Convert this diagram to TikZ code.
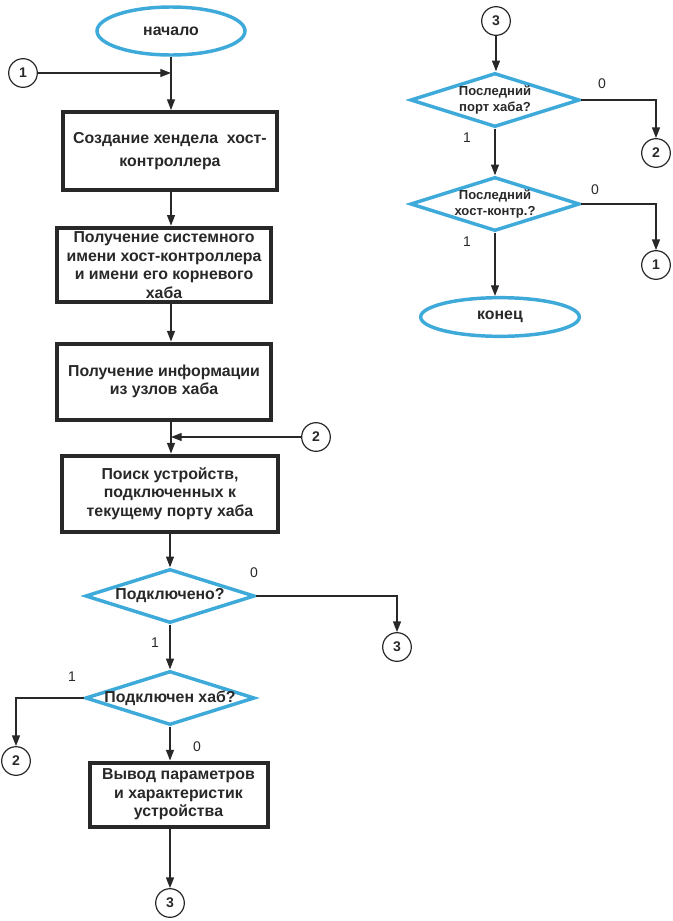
\documentclass[tikz,border=0pt]{standalone}
\usepackage{fontspec}
\setmainfont{Liberation Sans}
\usetikzlibrary{arrows.meta,
                shapes.geometric}
\definecolor{flowblue}{RGB}{62,170,218}
\definecolor{inkgray}{RGB}{40,40,40}

\begin{document}
\begin{tikzpicture}[x=0.75pt, y=-0.75pt,
    flow/.style = {-{Triangle[length=8pt, width=6pt]}, line width=0.9pt, inkgray},
    term/.style = {ellipse, draw=flowblue, line width=2.6pt, inner sep=0pt, text=inkgray,
                   font=\fontsize{11.9}{13.9}\selectfont\bfseries},
    proc/.style = {rectangle, draw=inkgray, line width=3pt, inner sep=0pt, align=center,
                   text=inkgray, font=\fontsize{11.9}{13.9}\selectfont\bfseries},
    cond/.style = {diamond, draw=flowblue, line width=2.6pt, inner sep=0pt,
                   minimum width=127pt, minimum height=40.5pt},
    condtext/.style = {align=center, text=inkgray, font=\fontsize{11.9}{13.9}\selectfont\bfseries},
    condsmall/.style = {align=center, text=inkgray, font=\fontsize{9.8}{12.7}\selectfont\bfseries},
    conn/.style = {circle, draw=inkgray, line width=0.9pt, minimum size=21.5pt, inner sep=0pt,
                   text=inkgray, font=\fontsize{10.5}{12}\selectfont\bfseries},
    lbl/.style  = {text=inkgray, font=\fontsize{10.5}{12}\selectfont}]

    \useasboundingbox (0,0) rectangle (672,921);

    % left column
    \node [term, minimum width=111pt, minimum height=36pt] (start) at (171,31) {начало};
    \node [proc, minimum width=160.5pt, minimum height=58.5pt] (box1) at (170,151)
        {Создание хендела\ \ хост-\\[3.5pt]контроллера};
    \node [proc, minimum width=161pt, minimum height=56pt] (box2) at (164,265)
        {Получение системного\\имени хост-контроллера\\и имени его корневого\\хаба};
    \node [proc, minimum width=161pt, minimum height=57pt] (box3) at (164,381.5)
        {Получение информации\\из узлов хаба};
    \node [proc, minimum width=162pt, minimum height=57pt] (box4) at (170,493.5)
        {Поиск устройств,\\подключенных к\\текущему порту хаба};
    \node [cond, label={[condtext]center:Подключено?}] (conn1) at (170,596) {};
    \node [cond, label={[condtext]center:Подключен хаб?}] (hub) at (170,698) {};
    \node [proc, minimum width=133.5pt, minimum height=48pt] (out) at (178.5,794.5)
        {Вывод параметров\\и характеристик\\устройства};

    \node [conn] (c1in)  at (23,73)   {1};
    \node [conn] (c2in)  at (316,437) {2};
    \node [conn] (c3a)   at (397,647) {3};
    \node [conn] (c2a)   at (16,761)  {2};
    \node [conn] (c3b)   at (170,903) {3};
    \coordinate (j1) at (171,73);
    \coordinate (j2) at (171,437);

    % right column
    \node [conn] (c3in) at (496,21) {3};
    \node [cond, label={[condsmall]center:Последний\\порт хаба?}] (lastport) at (495,100) {};
    \node [cond, label={[condsmall]center:Последний\\хост-контр.?}] (lasthc) at (495,204) {};
    \node [term, minimum width=119pt, minimum height=29pt] (stop) at (500,317) {конец};
    \node [conn] (c2out) at (656,153) {2};
    \node [conn] (c1out) at (656,265) {1};

    % connectors
    \draw [flow] (start.south) -- (box1.north -| start);
    \draw [flow] (c1in.east) -- (j1);
    \draw [flow] (box1.south -| start) -- (box2.north -| start);
    \draw [flow] (box2.south -| start) -- (box3.north -| start);
    \draw [flow] (box3.south -| start) -- (box4.north -| start);
    \draw [flow] (c2in.west) -- (j2);
    \draw [flow] (box4.south -| conn1) -- (conn1.north);
    \draw [flow] (conn1.east) -| (c3a.north);
    \draw [flow] (conn1.south) -- (hub.north);
    \draw [flow] (hub.west) -| (c2a.north);
    \draw [flow] (hub.south) -- (out.north -| hub);
    \draw [flow] (out.south -| hub) -- (c3b.north);

    \draw [flow] (c3in.south) -- (lastport.north -| c3in);
    \draw [flow] (lastport.east) -| (c2out.north);
    \draw [flow] (lastport.south) -- (lasthc.north);
    \draw [flow] (lasthc.east) -| (c1out.north);
    \draw [flow] (lasthc.south) -- (stop.north -| lasthc);

    % branch labels
    \node [lbl] at (254,573) {0};
    \node [lbl] at (155,643) {1};
    \node [lbl] at (72,677)  {1};
    \node [lbl] at (197,747) {0};
    \node [lbl] at (602,84)  {0};
    \node [lbl] at (467,138) {1};
    \node [lbl] at (595,190) {0};
    \node [lbl] at (467,242) {1};
\end{tikzpicture}
\end{document}
